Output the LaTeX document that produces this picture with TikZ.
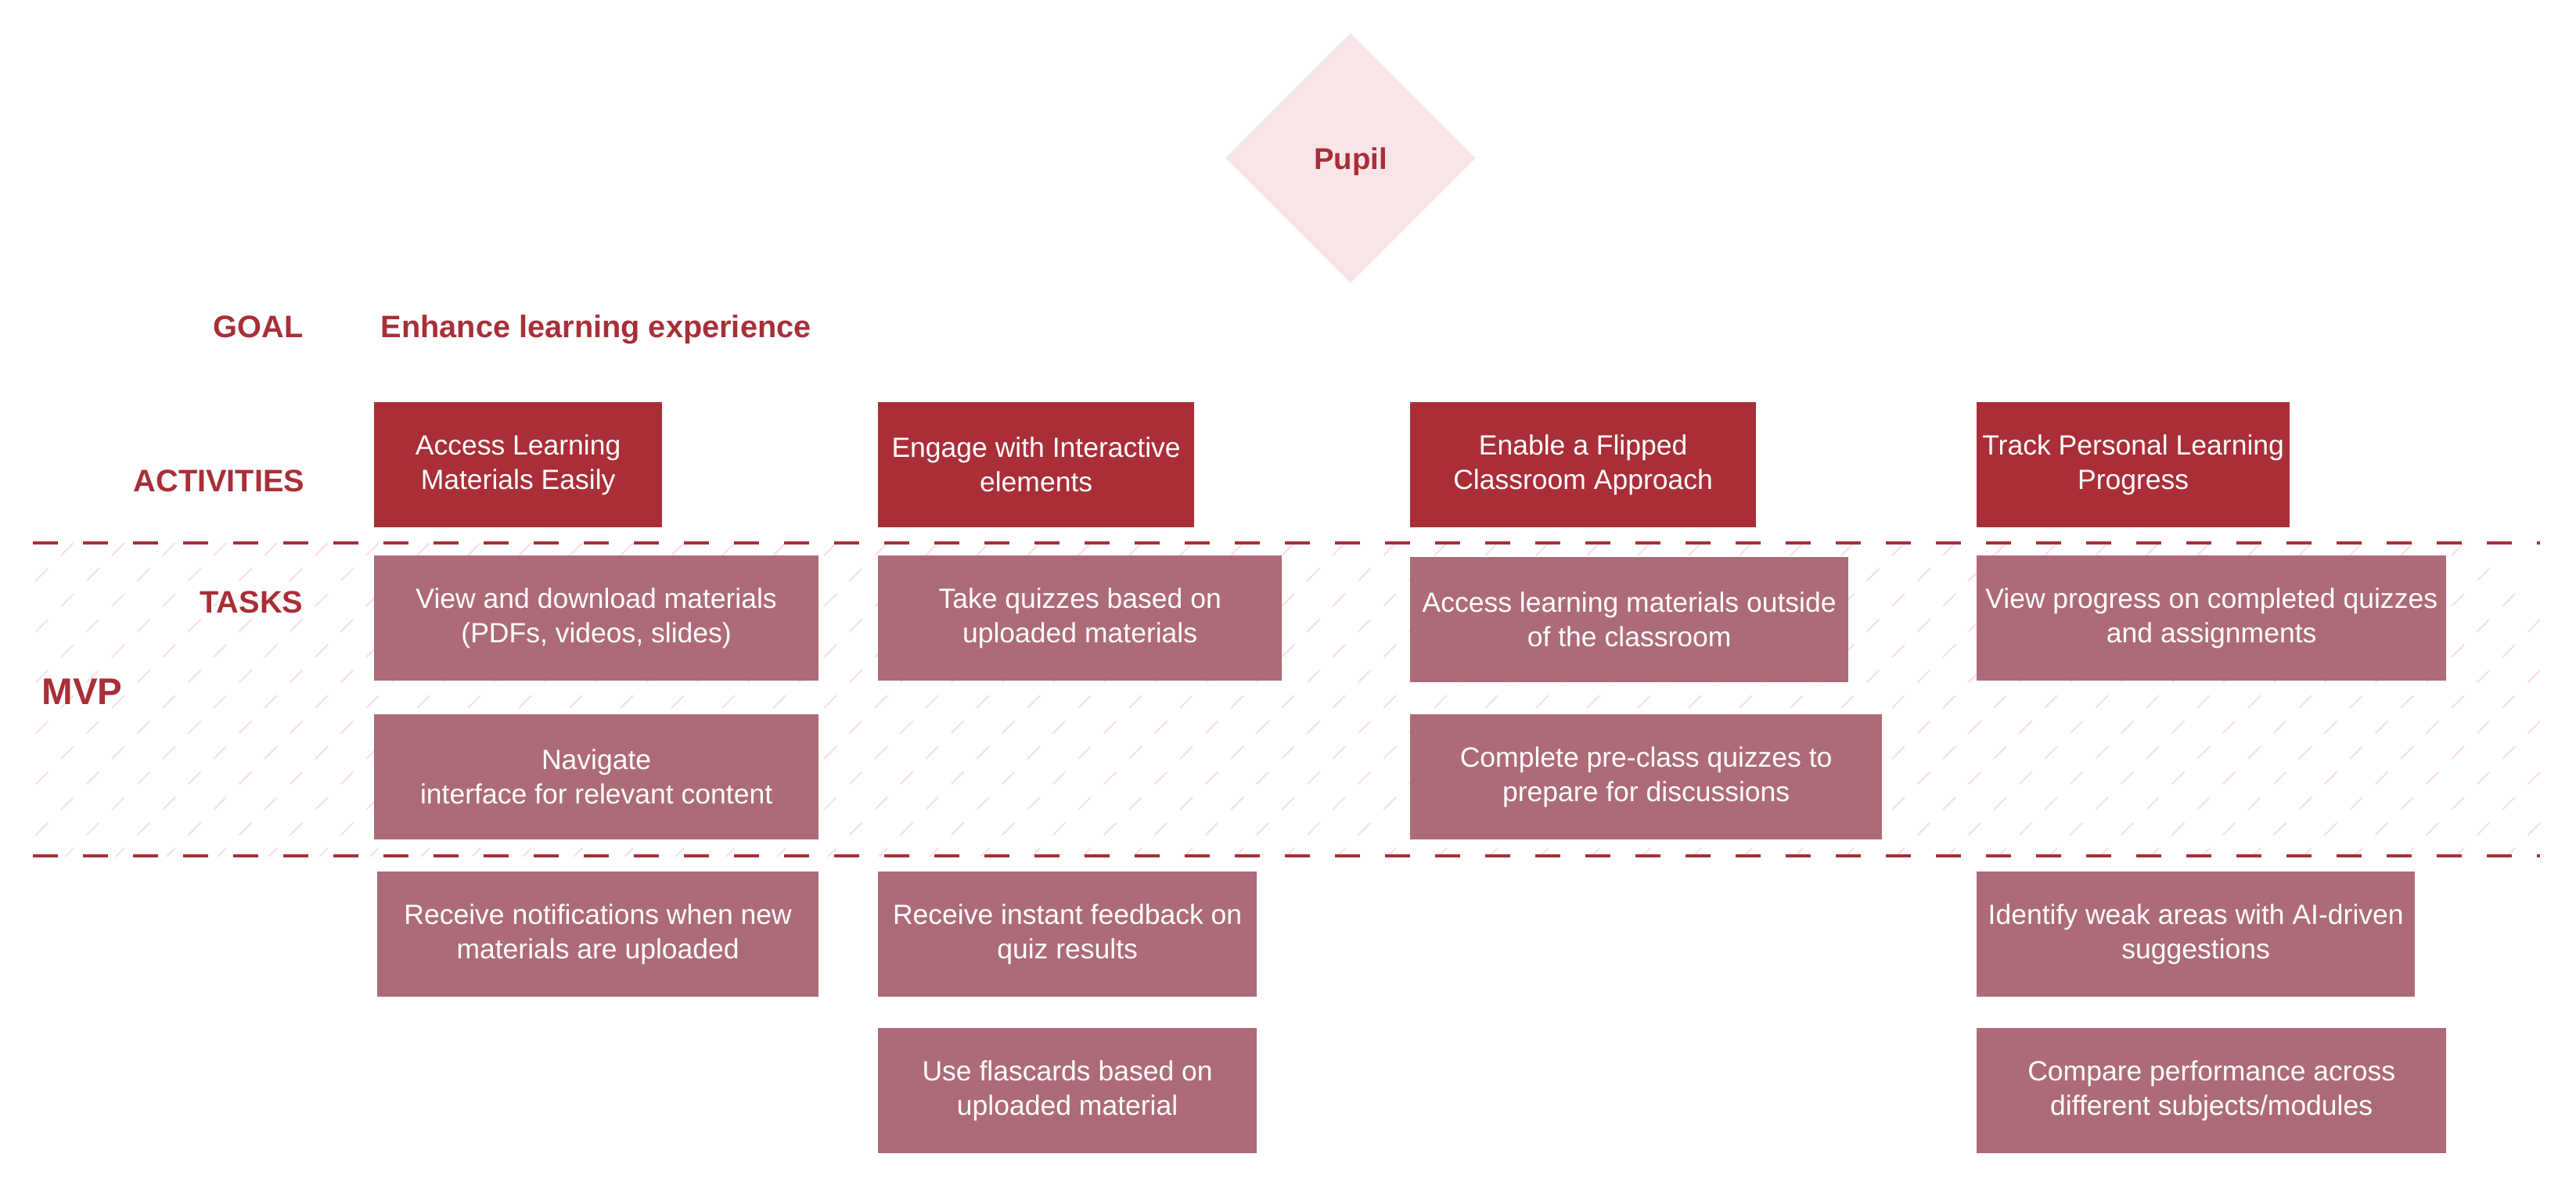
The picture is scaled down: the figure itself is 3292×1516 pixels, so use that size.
\documentclass[tikz,border=0pt]{standalone}
\usepackage{fontspec}
\setmainfont{Liberation Sans}
\usepackage{tikz}
\usetikzlibrary{shapes.geometric, positioning}
\usepackage{xcolor}
\definecolor{pupilRed}{RGB}{169,46,56}
\definecolor{taskMauve}{RGB}{173,107,119}
\definecolor{pupilPink}{RGB}{248,229,232}
\definecolor{hatchPink}{RGB}{250,224,229}

\begin{document}
\begin{tikzpicture}[
    x=0.01cm, y=-0.01cm,
    actbox/.style={rectangle, fill=pupilRed, text=white, inner sep=0pt, outer sep=0pt, anchor=north west, minimum height=1.6cm, align=center, font=\fontsize{10.1pt}{12.4pt}\selectfont},
    taskbox/.style={rectangle, fill=taskMauve, text=white, inner sep=0pt, outer sep=0pt, anchor=north west, minimum height=1.6cm, align=center, font=\fontsize{10.1pt}{12.4pt}\selectfont},
    rowlabel/.style={inner sep=0pt, text=pupilRed, font=\fontsize{11.3pt}{13pt}\selectfont\bfseries},
    mvpline/.style={draw=pupilRed, line width=1.14pt, dash pattern=on 9.1pt off 9.1pt},
    hatchline/.style={draw=hatchPink, line width=0.6pt}
]
\useasboundingbox (0,0) rectangle (3292,1516);

% MVP band
\begin{scope}
\clip (42,694) rectangle (3246,1094);
\foreach \j in {-7,...,7} {
  \foreach \i in {-4,...,51} {
    \draw[hatchline] ({13+65*\i+32.5*\j},{905+32.5*\j}) -- ++(16,-16);
  }
}
\end{scope}
\coordinate (mvpTopL) at (42,694);
\coordinate (mvpTopR) at (3246,694);
\coordinate (mvpBotL) at (42,1094);
\coordinate (mvpBotR) at (3246,1094);
\draw[mvpline] (mvpTopL) -- (mvpTopR);
\draw[mvpline] (mvpBotL) -- (mvpBotR);

% Persona
\node[diamond, aspect=1, fill=pupilPink, minimum width=3.2cm, minimum height=3.2cm, inner sep=0pt] (pupil) at (1726,202) {};
\node[rowlabel, anchor=base, font=\fontsize{10.9pt}{13pt}\selectfont\bfseries] (pupiltext) at (1726,217) {Pupil};

% Row labels
\node[rowlabel, anchor=base east] (goal) at (388,432) {GOAL};
\node[rowlabel, anchor=base west] (goaltext) at (486,432) {Enhance learning experience};
\node[rowlabel, anchor=base east] (activities) at (390,628) {ACTIVITIES};
\node[rowlabel, anchor=base east] (tasks) at (388,783) {TASKS};
\node[rowlabel, anchor=base west, font=\fontsize{13.5pt}{16pt}\selectfont\bfseries] (mvp) at (53,900) {MVP};

% Activities
\node[actbox, minimum width=3.68cm] (act1) at (478,514) {Access Learning\\Materials Easily};
\node[actbox, minimum width=4.04cm] (act2) at (1122,514) {Engage with Interactive\\elements};
\node[actbox, minimum width=4.42cm] (act3) at (1802,514) {Enable a Flipped\\Classroom Approach};
\node[actbox, minimum width=4.00cm] (act4) at (2526,514) {Track Personal Learning\\Progress};

% Tasks (MVP)
\node[taskbox, minimum width=5.68cm] (task1) at (478,710) {View and download materials\\(PDFs, videos, slides)};
\node[taskbox, minimum width=5.16cm] (task2) at (1122,710) {Take quizzes based on\\uploaded materials};
\node[taskbox, minimum width=5.60cm] (task3) at (1802,712) {Access learning materials outside\\of the classroom};
\node[taskbox, minimum width=6.00cm] (task4) at (2526,710) {View progress on completed quizzes\\and assignments};
\node[taskbox, minimum width=5.68cm] (task5) at (478,913) {Navigate\\interface for relevant content};
\node[taskbox, minimum width=6.03cm] (task6) at (1802,913) {Complete pre-class quizzes to\\prepare for discussions};

% Tasks (later)
\node[taskbox, minimum width=5.64cm] (task7) at (482,1114) {Receive notifications when new\\materials are uploaded};
\node[taskbox, minimum width=4.84cm] (task8) at (1122,1114) {Receive instant feedback on\\quiz results};
\node[taskbox, minimum width=5.60cm] (task9) at (2526,1114) {Identify weak areas with AI-driven\\suggestions};
\node[taskbox, minimum width=4.84cm] (task10) at (1122,1314) {Use flascards based on\\uploaded material};
\node[taskbox, minimum width=6.00cm] (task11) at (2526,1314) {Compare performance across\\different subjects/modules};
\end{tikzpicture}
\end{document}
